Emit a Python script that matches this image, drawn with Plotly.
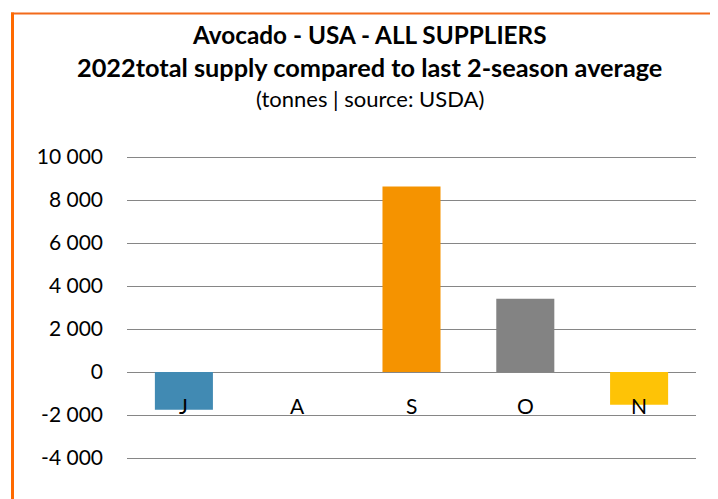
import plotly.graph_objects as go

months = ["J", "A", "S", "O", "N"]
values = [-1750, 0, 8630, 3410, -1520]
colors = ["#418AB3", "#A6B727", "#F59300", "#838383", "#FEC306"]
tick_vals = [-4000, -2000, 0, 2000, 4000, 6000, 8000, 10000]
tick_text = ["-4 000", "-2 000", "0", "2 000", "4 000", "6 000", "8 000", "10 000"]

FONT = "Lato"
# page has an 8px body margin; figure coordinates = page coordinates - 8
W, H = 710, 491
L, R, T, B = 119, 22, 147, 39
PW, PH = W - L - R, H - T - B


def px(x):
    return (x - L) / PW


def py(y_from_top):
    return (H - y_from_top - B) / PH


fig = go.Figure()
fig.add_trace(go.Bar(x=months, y=values, marker=dict(color=colors, line=dict(width=0)),
                     width=0.51, hoverinfo="x+y"))

for m in months:
    fig.add_annotation(x=m, y=0, xref="x", yref="y", text=m, showarrow=False,
                       yanchor="middle", yshift=-33,
                       font=dict(family=FONT, size=21, color="#000000"))

titles = [
    ("<b>Avocado - USA - ALL SUPPLIERS</b>", 26, 24.3),
    ("<b>2022total supply compared to last 2-season average</b>", 58.5, 25.3),
    ("(tonnes | source: USDA)", 90.5, 22),
]
for txt, yy, sz in titles:
    fig.add_annotation(x=px(361.5), y=py(yy), xref="paper", yref="paper", text=txt,
                       showarrow=False, xanchor="center", yanchor="middle",
                       font=dict(family=FONT, size=sz, color="#000000"))

# orange border (left and top)
fig.add_shape(type="line", xref="paper", yref="paper",
              x0=px(3), x1=px(W + 10), y0=py(5.5), y1=py(5.5),
              line=dict(color="#F26A1B", width=2))
fig.add_shape(type="line", xref="paper", yref="paper",
              x0=px(4.5), x1=px(4.5), y0=py(4.5), y1=py(H + 10),
              line=dict(color="#FF6A00", width=3))

fig.update_layout(
    width=W, height=H,
    margin=dict(l=L, r=R, t=T, b=B, autoexpand=False),
    paper_bgcolor="white", plot_bgcolor="white",
    showlegend=False,
    bargap=0.49,
    xaxis=dict(showticklabels=False, showgrid=False, zeroline=False, showline=False, ticks=""),
    yaxis=dict(range=[-4093, 10093], tickvals=tick_vals, ticktext=tick_text,
               showgrid=True, gridcolor="#868686", gridwidth=1,
               zeroline=True, zerolinecolor="#868686", zerolinewidth=1,
               showline=False, ticks="", ticklabelstandoff=23,
               tickfont=dict(family=FONT, size=21, color="#000000")),
)

fig.write_html("out.html")
